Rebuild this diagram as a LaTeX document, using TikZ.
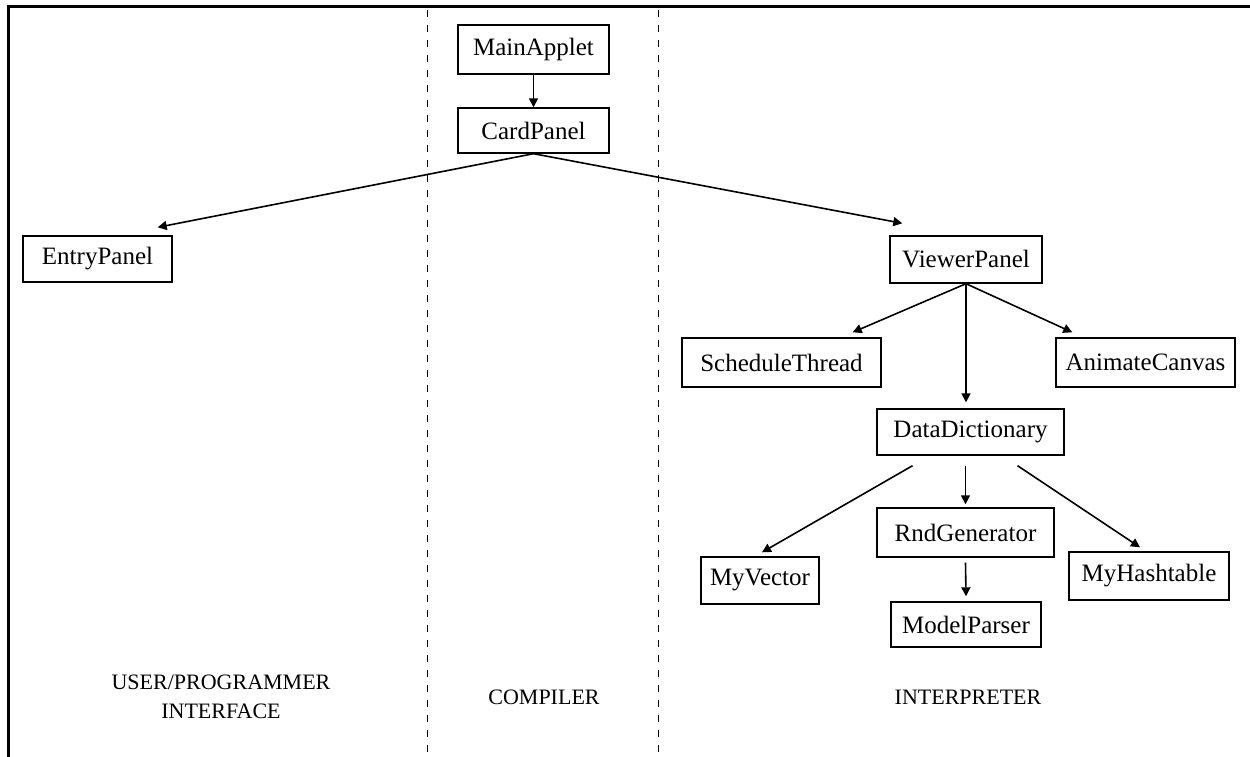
\documentclass[tikz,border=0pt]{standalone}
\usepackage{fontspec}
\setmainfont{Liberation Serif}
\usetikzlibrary{arrows.meta,positioning,calc}

\begin{document}
\begin{tikzpicture}[
  x=1pt,y=-1pt,
  box/.style={draw,line width=1.4pt,inner sep=0pt,minimum height=47pt,
    font=\fontsize{25}{30}\selectfont},
  label/.style={align=center,font=\fontsize{22}{29}\selectfont},
  arrow/.style={-{Triangle[length=9pt,width=9pt]},line width=1.6pt},
  frame/.style={line width=3pt},
  split/.style={line width=0.9pt,dash pattern=on 7pt off 8pt}
]
\useasboundingbox (0,0) rectangle (1250,757);
\draw[frame] (8,757) -- (8,7) -- (1250,7);
\draw[split] (427,10) -- (427,757);
\draw[split] (658,10) -- (658,757);
\node[box,minimum width=151pt,minimum height=49pt] (main) at (533.5,49.5) {MainApplet};
\node[box,minimum width=151pt,minimum height=45pt] (card) at (533.5,130.5) {CardPanel};
\node[box,minimum width=149pt,minimum height=46pt] (entry) at (97.5,259) {EntryPanel};
\node[box,minimum width=152pt] (view) at (966,259.5) {ViewerPanel};
\node[box,minimum width=199pt,minimum height=49pt] (sched) at (781.5,362.5) {ScheduleThread};
\node[box,minimum width=179pt,minimum height=49pt] (anim) at (1145.5,362.5) {AnimateCanvas};
\node[box,minimum width=187pt,minimum height=46pt] (dict) at (970.5,432) {DataDictionary};
\node[box,minimum width=177pt,minimum height=49pt] (rnd) at (965.5,532.5) {RndGenerator};
\node[box,minimum width=150pt,minimum height=45pt] (model) at (966,624.5) {ModelParser};
\node[box,minimum width=118pt] (vec) at (760,580.5) {MyVector};
\node[box,minimum width=160pt,minimum height=48pt] (hash) at (1149,576) {MyHashtable};
\node[label] (ui) at (221,697) {USER/PROGRAMMER\\INTERFACE};
\node[label] (comp) at (544,697) {COMPILER};
\node[label] (interp) at (968,697) {INTERPRETER};
\draw[arrow] (main)--(card);
\draw[arrow] (card.south)--($(entry.north east)+(-15,-8)$);
\draw[arrow] (card.south)--($(view.north west)+(13,-12)$);
\draw[arrow] (view.south)--($(sched.north east)+(-29,-5)$);
\draw[arrow] (view.south)--($(anim.north west)+(17,-5)$);
\draw[arrow] (view.south)--($(view.south|-dict.north)+(0,-6)$);
\draw[arrow] ($(dict.south)+(-58,10)$)--($(vec.north)+(2,-4)$);
\draw[arrow] ($(dict.south)+(-5,10)$)--($(dict.south|-rnd.north)+(-5,-3)$);
\draw[arrow] ($(dict.south)+(47,10)$)--($(hash.north)+(-9,-4)$);
\draw[arrow] ($(rnd.south)+(0,5)$)--($(model.north)+(0,-5)$);
\end{tikzpicture}
\end{document}
